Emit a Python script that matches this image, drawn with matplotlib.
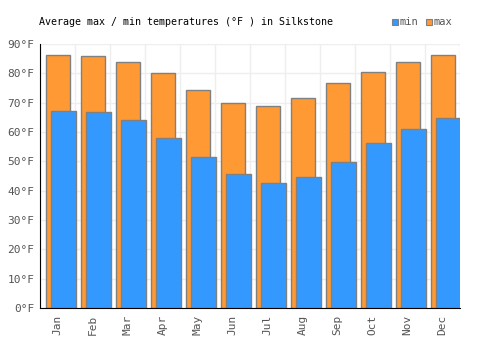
import matplotlib
matplotlib.use("Agg")
import matplotlib.pyplot as plt
import numpy as np
from matplotlib.patches import Rectangle

months = ["Jan", "Feb", "Mar", "Apr", "May", "Jun", "Jul", "Aug", "Sep", "Oct", "Nov", "Dec"]
max_temp = [86.4, 85.8, 83.7, 80.0, 74.2, 69.8, 68.8, 71.5, 76.6, 80.4, 83.7, 86.1]
min_temp = [67.0, 66.7, 64.0, 57.8, 51.4, 45.6, 42.5, 44.6, 49.7, 56.1, 60.9, 64.7]
yticks = [0, 10, 20, 30, 40, 50, 60, 70, 80, 90]

plt.rcParams['font.family'] = ['DejaVu Sans Mono']

fig = plt.figure(figsize=(5, 3.5), dpi=100)
ax = fig.add_axes([40/500, 1-308/350, 420/500, 264/350])

x = np.arange(len(months))
ax.bar(x + 0.515, max_temp, width=0.69, color="#ff9933", edgecolor="#808080", linewidth=1, zorder=2)
ax.bar(x + 0.675, min_temp, width=0.70, color="#3399ff", edgecolor="#808080", linewidth=1, zorder=3)

ax.set_xlim(0, 12)
ax.set_ylim(0, 90)
ax.set_yticks(yticks)
ax.set_yticklabels([f"{v}°F" for v in yticks], color="#555555", fontsize=8)
ax.set_xticks(x + 0.5)
ax.set_xticklabels(months, rotation=90, color="#555555", fontsize=8)
ax.set_xticks(np.arange(13), minor=True)
ax.tick_params(axis='x', which='both', length=0, pad=5)
ax.tick_params(axis='y', length=0, pad=4)
ax.grid(False)
ax.yaxis.grid(True, color="#eeeeee", linewidth=1, zorder=0)
ax.xaxis.grid(True, which='minor', color="#eeeeee", linewidth=1, zorder=0)
ax.set_axisbelow(True)
for s in ["top", "right"]:
    ax.spines[s].set_visible(False)
ax.spines["left"].set_color("black")
ax.spines["bottom"].set_color("black")
ax.spines["left"].set_zorder(5)
ax.spines["bottom"].set_zorder(5)

fig.text(39/500, 1-22/350, "Average max / min temperatures (°F ) in Silkstone", fontsize=7.2, color="black", va="center", ha="left")

# legend
for xs, col, lab in [(392, "#3399ff", "min"), (426, "#ff9933", "max")]:
    fig.patches.append(Rectangle((xs/500, 1-25/350), 6/500, 6/350, facecolor=col, edgecolor="#808080", linewidth=0.8, transform=fig.transFigure, figure=fig))
    fig.text((xs+8)/500, 1-22/350, lab, fontsize=7.5, color="#555555", va="center", ha="left")

fig.savefig("out.png", dpi=100)
